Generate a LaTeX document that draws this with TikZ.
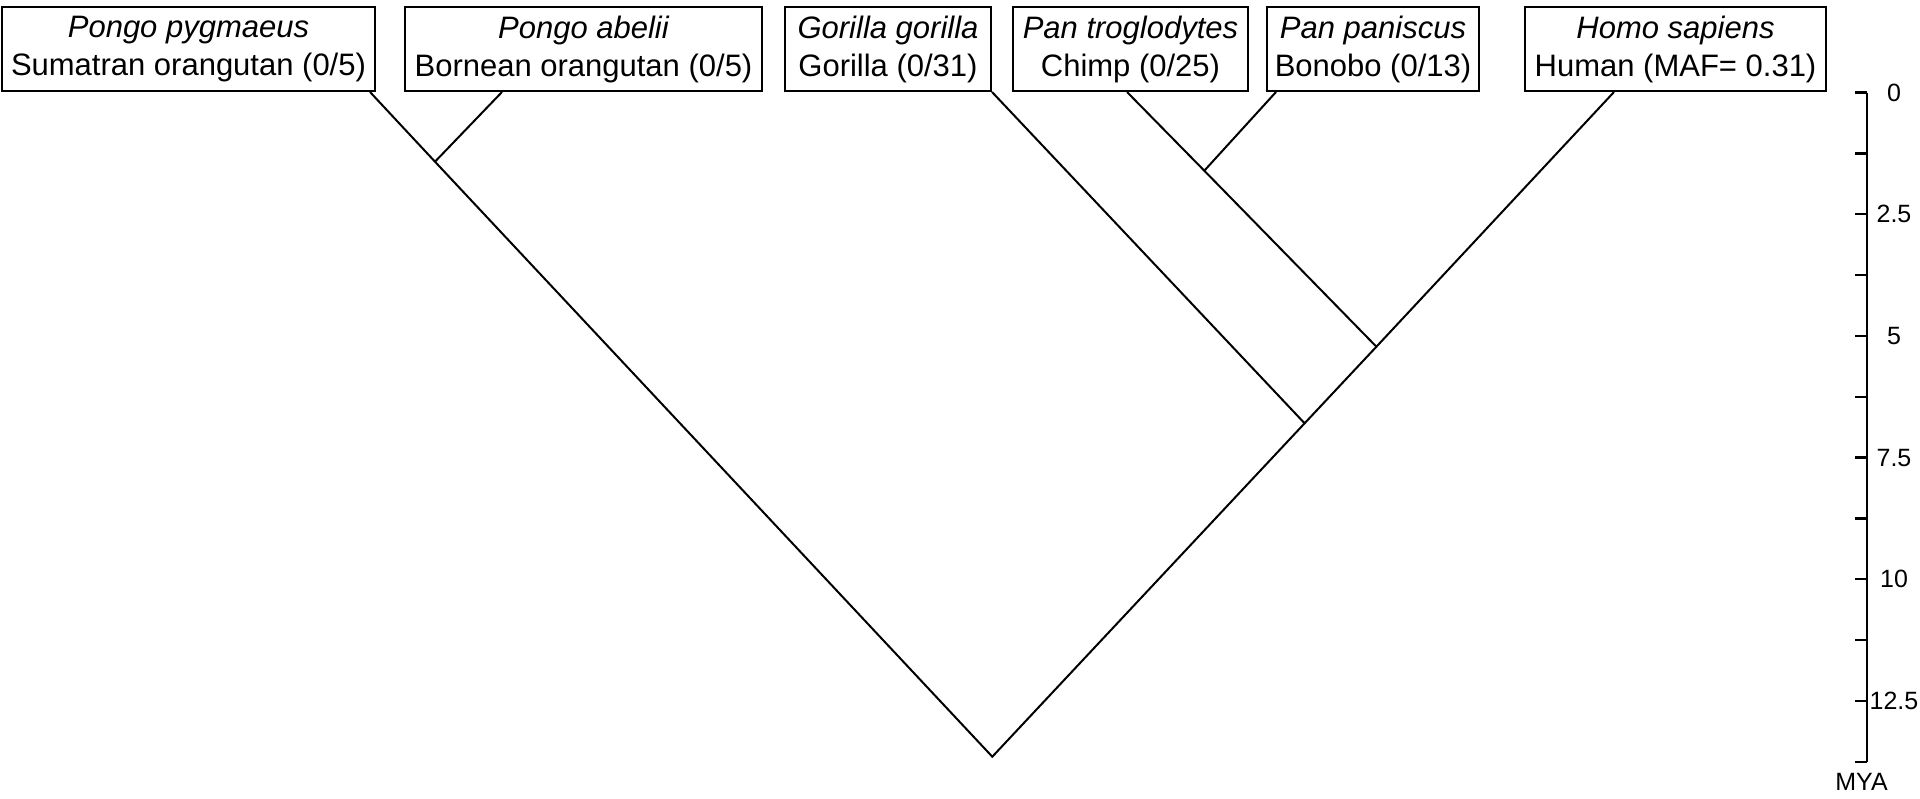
\documentclass[tikz,border=0pt]{standalone}
\usepackage{fontspec}
\setmainfont{Liberation Sans}
\begin{document}
\begin{tikzpicture}[x=1pt,y=-1pt,
  taxon/.style={draw=black, line width=2pt, align=center, minimum height=84pt,
    inner sep=0pt, font=\fontsize{31}{38}\selectfont},
  branch/.style={line width=2pt, line join=miter},
  axisline/.style={line width=2.4pt},
  ticklabel/.style={font=\fontsize{25}{27}\selectfont, inner sep=0pt}]
\useasboundingbox (0,0) rectangle (1920,798);
% taxon boxes
\node[taxon, minimum width=373pt] (b1) at (188.5,49) {{\itshape Pongo pygmaeus}\\Sumatran orangutan (0/5)};
\node[taxon, minimum width=357pt] (b2) at (583.5,49) {{\itshape Pongo abelii}\\Bornean orangutan (0/5)};
\node[taxon, minimum width=206pt] (b3) at (888,49) {{\itshape Gorilla gorilla}\\Gorilla (0/31)};
\node[taxon, minimum width=235pt] (b4) at (1130.5,49) {{\itshape Pan troglodytes}\\Chimp (0/25)};
\node[taxon, minimum width=212pt] (b5) at (1373,49) {{\itshape Pan paniscus}\\Bonobo (0/13)};
\node[taxon, minimum width=301pt] (b6) at (1675.5,49) {{\itshape Homo sapiens}\\Human (MAF= 0.31)};
% branch start points on the boxes
\coordinate (s1) at ([xshift=-6pt]b1.south east);
\coordinate (s2) at ([xshift=98pt]b2.south west);
\coordinate (s3) at (b3.south east);
\coordinate (s4) at ([xshift=-3.5pt]b4.south);
\coordinate (s5) at ([xshift=10pt]b5.south west);
\coordinate (s6) at ([xshift=90pt]b6.south west);
% internal nodes
\coordinate (j1) at (435,161.7);
\coordinate (j2) at (1204.3,170.7);
\coordinate (j3) at (1376.4,346.7);
\coordinate (j4) at (1304.6,423.3);
\coordinate (root) at (992.3,756.7);
% tree
\draw[branch] (s1) -- (j1) -- (root) -- (j4) -- (j3) -- (s6);
\draw[branch] (s2) -- (j1);
\draw[branch] (s3) -- (j4);
\draw[branch] (s4) -- (j2) -- (j3);
\draw[branch] (s5) -- (j2);
% time axis
\coordinate (axtop) at (1867,92.5);
\coordinate (axbot) at (1867,761.7);
\draw[axisline] (axtop) -- (axbot);
\foreach \i in {0,...,11} {
  \draw[axisline] (1855,92.5+60.84*\i) -- (1867,92.5+60.84*\i);
}
\foreach \v/\i in {0/0,2.5/2,5/4,7.5/6,10/8,12.5/10} {
  \node[ticklabel] (lab\i) at (1894,92.5+60.84*\i) {\v};
}
\node[ticklabel] (mya) at (1861.5,781.5) {MYA};
\end{tikzpicture}
\end{document}
